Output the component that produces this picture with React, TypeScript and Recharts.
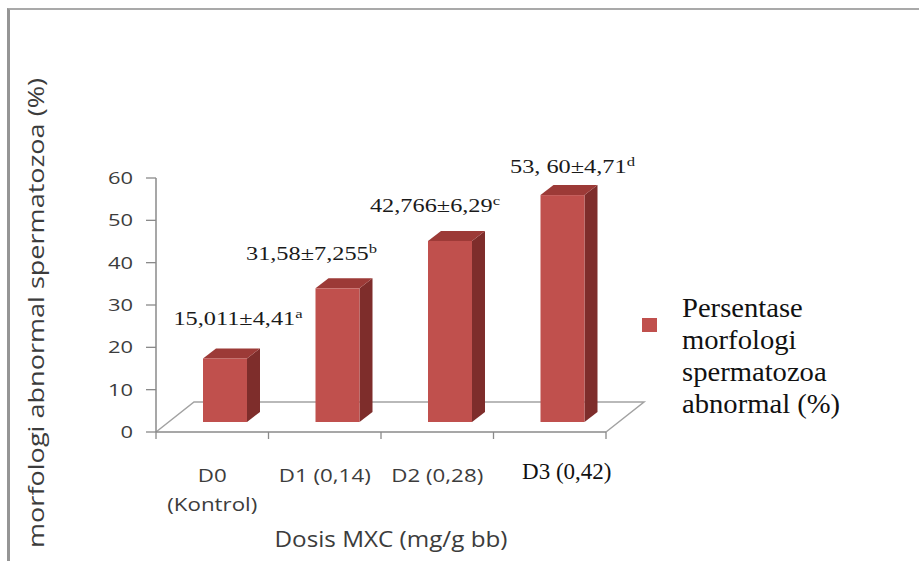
import React from 'react';
import { BarChart, Bar, XAxis, YAxis, CartesianGrid, Legend } from 'recharts';

// ---- data ----
const categories = ['D0\n(Kontrol)', 'D1 (0,14)', 'D2 (0,28)', 'D3 (0,42)'];
const meanValues = [15.011, 31.58, 42.766, 53.6];
const valueLabels = ['15,011±4,41', '31,58±7,255', '42,766±6,29', '53, 60±4,71'];
const significanceLetters = ['a', 'b', 'c', 'd'];
const yTicks = [0, 10, 20, 30, 40, 50, 60];
const seriesName = 'Persentase morfologi spermatozoa abnormal (%)';
const xAxisTitle = 'Dosis MXC (mg/g bb)';
const yAxisTitle = 'morfologi abnormal spermatozoa (%)';

const rows = categories.map((category, i) => ({ category, value: meanValues[i] }));

// ---- styles ----
const SANS = '"Open Sans", "DejaVu Sans", sans-serif';
const SERIF = '"Liberation Serif", "Times New Roman", serif';
const AXIS_GREY = '#8a8a8a';
const FLOOR_GREY = '#a2a2a2';
const TEXT_GREY = '#3c3c3c';
const FRONT = '#c0504d';
const SIDE = '#7e2d2b';
const TOP = '#9c3a37';

// 3D extrusion of one bar and of the whole floor
const DEPTH_X = 13;
const DEPTH_Y = 10;
const FLOOR_DX = 38;
const FLOOR_DY = 30;

// hand-placed value labels (offsets from the bar's front face)
const labelNudge = [
  { dx: 13, dy: -33 },
  { dx: -26, dy: -28 },
  { dx: -15, dy: -29 },
  { dx: 10, dy: -22 },
];
const serifCategory = 'D3 (0,42)';

const Bar3D = (props: any) => {
  const { x, y, width, height } = props;
  if (height == null || width == null) return null;
  const fx = x + DEPTH_X;
  const fy = y - DEPTH_Y;
  const bottom = fy + height;
  const rx = fx + width;
  return (
    <g>
      <polygon
        points={`${rx},${fy} ${rx + DEPTH_X},${fy - DEPTH_Y} ${rx + DEPTH_X},${bottom - DEPTH_Y} ${rx},${bottom}`}
        fill={SIDE}
      />
      <polygon
        points={`${fx},${fy} ${fx + DEPTH_X},${fy - DEPTH_Y} ${rx + DEPTH_X},${fy - DEPTH_Y} ${rx},${fy}`}
        fill={TOP}
      />
      <rect x={fx} y={fy} width={width} height={height} fill={FRONT} />
    </g>
  );
};

const ValueLabel = (props: any) => {
  const { x, y, width, index } = props;
  const n = labelNudge[index] || { dx: 0, dy: -28 };
  const cx = x + DEPTH_X + width / 2 + n.dx;
  const by = y - DEPTH_Y + n.dy;
  return (
    <g transform={`translate(${cx},${by}) scale(1.28,1)`}>
      <text x={0} y={0} textAnchor="middle" fontFamily={SERIF} fontSize={19} fill="#1a1a1a">
        {valueLabels[index]}
        <tspan dy={-7} fontSize={13}>
          {significanceLetters[index]}
        </tspan>
      </text>
    </g>
  );
};

// floor of the 3D plot, drawn on the zero gridline
const Floor = (props: any) => {
  const { x1, x2, y1 } = props;
  if (x1 == null || x2 == null || y1 == null) return <g />;
  const n = categories.length;
  const step = (x2 - x1) / n;
  const ticks = [];
  for (let i = 0; i <= n; i++) {
    const tx = x1 + i * step;
    ticks.push(<line key={`t${i}`} x1={tx} y1={y1} x2={tx} y2={y1 + 7} stroke={AXIS_GREY} strokeWidth={1.3} />);
  }
  return (
    <g>
      <polyline
        points={`${x1},${y1} ${x1 + FLOOR_DX},${y1 - FLOOR_DY} ${x2 + FLOOR_DX},${y1 - FLOOR_DY} ${x2},${y1}`}
        fill="none"
        stroke={FLOOR_GREY}
        strokeWidth={1.5}
      />
      <line x1={x1} y1={y1} x2={x2} y2={y1} stroke={AXIS_GREY} strokeWidth={1.5} />
      {ticks}
    </g>
  );
};

const XTick = (props: any) => {
  const { x, y, payload } = props;
  const value = String(payload.value);
  if (value === serifCategory) {
    return (
      <text x={x + 17} y={y + 47} textAnchor="middle" fontFamily={SERIF} fontSize={23} fill="#111">
        {value}
      </text>
    );
  }
  const lines = value.split('\n');
  return (
    <g transform={`translate(${x},${y}) scale(1.24,1)`}>
      {lines.map((line, i) => (
        <text key={i} x={0} y={50 + i * 29} textAnchor="middle" fontFamily={SANS} fontSize={18} fill={TEXT_GREY}>
          {line}
        </text>
      ))}
    </g>
  );
};

const YTick = (props: any) => {
  const { x, y, payload } = props;
  return (
    <g transform={`translate(${x},${y}) scale(1.29,1)`}>
      <text x={0} y={6} textAnchor="end" fontFamily={SANS} fontSize={17} fill={TEXT_GREY}>
        {payload.value}
      </text>
    </g>
  );
};

const YTitle = (props: any) => {
  const vb = props.viewBox || { x: 0, y: 0, width: 0, height: 0 };
  const cx = vb.x + 36;
  const cy = vb.y + vb.height / 2 + 8;
  return (
    <text
      transform={`translate(${cx},${cy}) rotate(-90)`}
      x={0}
      y={0}
      textAnchor="middle"
      dominantBaseline="central"
      fontFamily={SANS}
      fontSize={21}
      fill={TEXT_GREY}
      textLength={470}
      lengthAdjust="spacingAndGlyphs"
    >
      {yAxisTitle}
    </text>
  );
};

const XTitle = (props: any) => {
  const vb = props.viewBox || { x: 0, y: 0, width: 0, height: 0 };
  const cx = vb.x + vb.width / 2 + 10;
  return (
    <text
      x={cx}
      y={vb.y + 115}
      textAnchor="middle"
      fontFamily={SANS}
      fontSize={21}
      fill={TEXT_GREY}
      textLength={233}
      lengthAdjust="spacingAndGlyphs"
    >
      {xAxisTitle}
    </text>
  );
};

// wrap the series name into short lines
const wrapWords = (text: string, maxChars: number) => {
  const out: string[] = [];
  let cur = '';
  text.split(' ').forEach((w) => {
    const next = cur ? `${cur} ${w}` : w;
    if (next.length > maxChars && cur) {
      out.push(cur);
      cur = w;
    } else {
      cur = next;
    }
  });
  if (cur) out.push(cur);
  return out;
};

const LegendBox = (props: any) => {
  const item = (props.payload || [])[0];
  if (!item) return null;
  const lines = wrapWords(String(item.value), 12);
  return (
    <div style={{ position: 'relative', width: 250, height: 140 }}>
      <div style={{ position: 'absolute', left: 2, top: 26, width: 15, height: 14, background: item.color }} />
      <div
        style={{
          position: 'absolute',
          left: 42,
          top: 0,
          fontFamily: SERIF,
          fontSize: 27,
          lineHeight: '32px',
          color: '#111',
          whiteSpace: 'nowrap',
          transform: 'scaleX(1.06)',
          transformOrigin: 'left top',
        }}
      >
        {lines.map((l, i) => (
          <div key={i}>{l}</div>
        ))}
      </div>
    </div>
  );
};

export default function App() {
  return (
    <div style={{ position: 'absolute', left: 0, top: 0, width: 919, height: 561, background: '#fff', overflow: 'hidden' }}>
      <div
        style={{
          position: 'absolute',
          left: 7,
          top: 8,
          right: 0,
          bottom: 0,
          borderTop: '2px solid #a9a9a9',
          borderLeft: '3px solid #959595',
        }}
      />
      <BarChart
        width={919}
        height={561}
        data={rows}
        margin={{ top: 178, right: 313, bottom: 0, left: 0 }}
        barSize={44}
      >
        <CartesianGrid vertical={false} horizontalValues={[0]} horizontal={(p: any) => <Floor {...p} />} />
        <XAxis
          dataKey="category"
          height={129}
          interval={0}
          axisLine={false}
          tickLine={false}
          tickSize={0}
          tickMargin={0}
          tick={<XTick />}
          label={{ value: xAxisTitle, content: (p: any) => <XTitle {...p} /> }}
        />
        <YAxis
          width={156}
          domain={[0, 60]}
          ticks={yTicks}
          interval={0}
          axisLine={{ stroke: AXIS_GREY, strokeWidth: 1.5 }}
          tickLine={{ stroke: AXIS_GREY, strokeWidth: 1.3 }}
          tickSize={10}
          tickMargin={13}
          tick={<YTick />}
          label={{ value: yAxisTitle, content: (p: any) => <YTitle {...p} /> }}
        />
        <Legend
          layout="vertical"
          align="center"
          verticalAlign="middle"
          wrapperStyle={{ left: 640, top: 292, width: 250 }}
          content={(p: any) => <LegendBox {...p} />}
        />
        <Bar
          dataKey="value"
          name={seriesName}
          fill={FRONT}
          shape={(p: any) => <Bar3D {...p} />}
          label={(p: any) => <ValueLabel {...p} />}
          isAnimationActive={false}
        />
      </BarChart>
    </div>
  );
}
